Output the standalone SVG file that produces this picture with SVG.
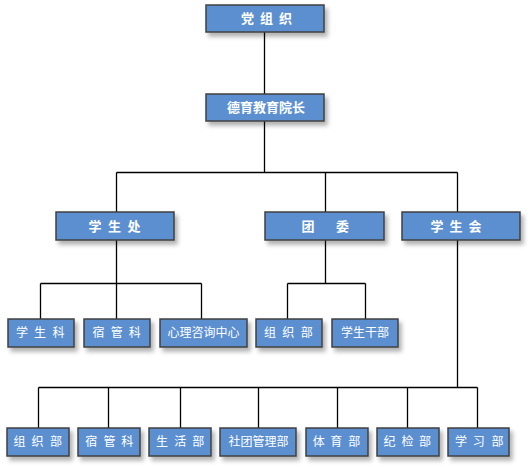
<svg xmlns="http://www.w3.org/2000/svg" width="531" height="468" viewBox="0 0 531 468">
<defs>
<filter id="sh" x="-20%" y="-30%" width="150%" height="180%">
<feDropShadow dx="3" dy="4" stdDeviation="2" flood-color="#000" flood-opacity="0.3"/>
</filter>
<style>
.box{fill:#5B8FD0;stroke:#404040;stroke-width:1.5;filter:url(#sh)}
.t1{font-family:"Noto Sans CJK SC",sans-serif;font-size:13px;font-weight:bold;fill:#fff;text-anchor:middle}
.t2{font-family:"Noto Sans CJK SC",sans-serif;font-size:12px;fill:#fff;text-anchor:middle}
.ln{stroke:#000;stroke-width:1.3;fill:none}
</style>
</defs>
<rect width="531" height="468" fill="#fff"/>
<g id="connectors" class="ln">
<path d="M264.5 32V94M264.5 121V172.5M116.5 172.5H457.5M116.5 172.5V212M325.5 172.5V212M457.5 172.5V212"/>
<path d="M116.5 240V283.5M40.5 283.5H201.5M40.5 283.5V319M116.5 283.5V319M201.5 283.5V319"/>
<path d="M325.5 240V283.5M287.5 283.5H365.5M287.5 283.5V319M365.5 283.5V319"/>
<path d="M457.5 240V387.5M38.5 387.5H477.5M38.5 387.5V428M108.5 387.5V428M180.5 387.5V428M258.5 387.5V428M337.5 387.5V428M407.5 387.5V428M477.5 387.5V428"/>
</g>
<g id="n-dangzuzhi"><rect class="box" x="206" y="5" width="118" height="27"/><text class="t1" x="247.5 257 266.5 276 285.5" y="23.2">党 组 织</text></g>
<g id="n-deyu"><rect class="box" x="206" y="94" width="118" height="27"/><text class="t1" x="266" y="112.2">德育教育院长</text></g>
<g id="n-xueshengchu"><rect class="box" x="56" y="212" width="118" height="28"/><text class="t1" x="95 104.5 114.5 124 134" y="230.6">学 生 处</text></g>
<g id="n-tuanwei"><rect class="box" x="265" y="212" width="119" height="28"/><text class="t1" x="308 325 342.5" y="230.6">团 委</text></g>
<g id="n-xueshenghui"><rect class="box" x="402" y="212" width="118" height="28"/><text class="t1" x="437 446.5 456 465.5 475" y="230.6">学 生 会</text></g>
<g id="n-xueshengke"><rect class="box" x="8" y="319" width="66" height="28"/><text class="t2" x="22 31 40 49 58.5" y="337.3">学 生 科</text></g>
<g id="n-suguanke1"><rect class="box" x="84" y="319" width="66" height="28"/><text class="t2" x="98.5 107.5 116.7 125.5 134.7" y="337.3">宿 管 科</text></g>
<g id="n-xinli"><rect class="box" x="160" y="319" width="87" height="28"/><text class="t2" x="203.5" y="337.3">心理咨询中心</text></g>
<g id="n-zuzhibu1"><rect class="box" x="256" y="319" width="66" height="28"/><text class="t2" x="270 279 288.3 297.5 306.7" y="337.3">组 织 部</text></g>
<g id="n-xueshengganbu"><rect class="box" x="332" y="319" width="66" height="28"/><text class="t2" x="365" y="337.3">学生干部</text></g>
<g id="n-zuzhibu2"><rect class="box" x="7" y="428" width="62" height="28"/><text class="t2" x="19.5 28.5 37.5 46.5 56" y="446.3">组 织 部</text></g>
<g id="n-suguanke2"><rect class="box" x="78" y="428" width="62" height="28"/><text class="t2" x="91.3 100.5 109.5 118.5 127.2" y="446.3">宿 管 科</text></g>
<g id="n-shenghuobu"><rect class="box" x="149" y="428" width="62" height="28"/><text class="t2" x="162 171 180.3 189.3 198.3" y="446.3">生 活 部</text></g>
<g id="n-shetuan"><rect class="box" x="220" y="428" width="76" height="28"/><text class="t2" x="258.5" y="446.3">社团管理部</text></g>
<g id="n-tiyubu"><rect class="box" x="306" y="428" width="62" height="28"/><text class="t2" x="318.7 327.5 336.2 345 354.2" y="446.3">体 育 部</text></g>
<g id="n-jijianbu"><rect class="box" x="377" y="428" width="62" height="28"/><text class="t2" x="389.5 398.5 407.5 416.3 425" y="446.3">纪 检 部</text></g>
<g id="n-xuexibu"><rect class="box" x="448" y="428" width="61" height="28"/><text class="t2" x="461 470 478.7 488 497.5" y="446.3">学 习 部</text></g>
</svg>
